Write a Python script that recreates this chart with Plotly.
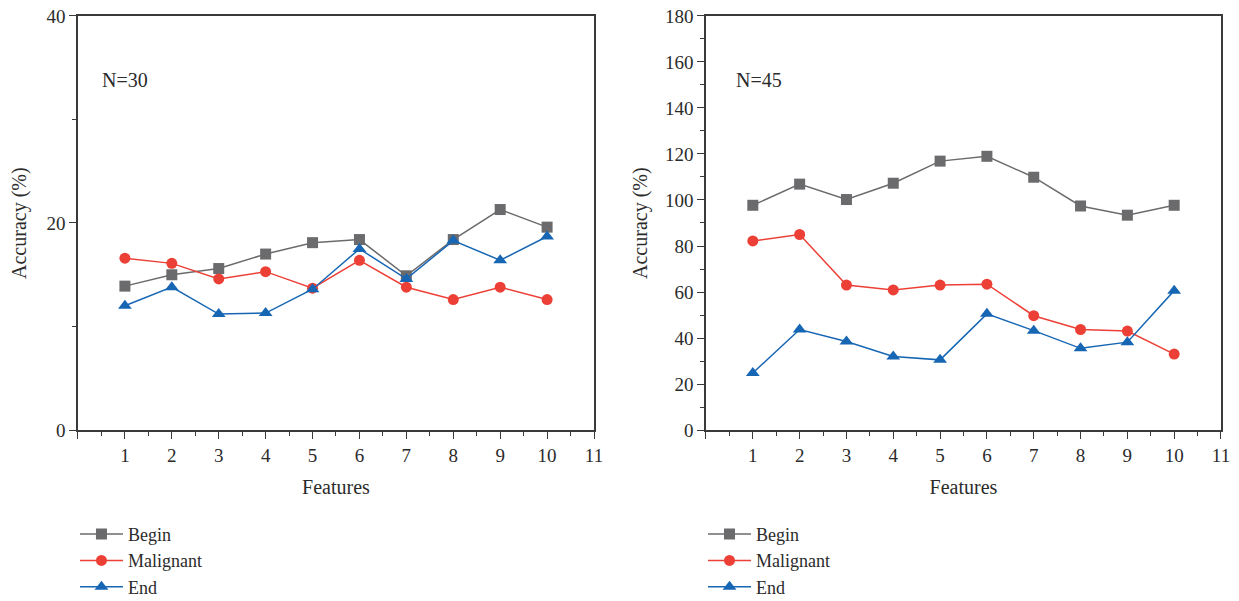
import plotly.graph_objects as go

features = [1, 2, 3, 4, 5, 6, 7, 8, 9, 10]

# N=30 panel
begin_30 = [13.9, 15.0, 15.6, 17.0, 18.1, 18.4, 14.9, 18.4, 21.3, 19.6]
malignant_30 = [16.6, 16.1, 14.6, 15.3, 13.7, 16.4, 13.8, 12.6, 13.8, 12.6]
end_30 = [12.0, 13.8, 11.2, 11.3, 13.6, 17.5, 14.6, 18.3, 16.4, 18.7]

# N=45 panel
begin_45 = [97.7, 106.9, 100.2, 107.3, 116.9, 119.0, 109.9, 97.4, 93.4, 97.7]
malignant_45 = [82.2, 85.0, 63.0, 60.9, 63.0, 63.4, 49.7, 43.7, 43.0, 33.0]
end_45 = [24.8, 43.7, 38.5, 32.0, 30.5, 50.5, 43.2, 35.5, 38.2, 60.6]

series_names = ["Begin", "Malignant", "End"]
x_tickvals = list(range(0, 12))
x_ticktext = [""] + [str(i) for i in range(1, 12)]

FONT = "Liberation Serif"
TXT = "#2b2b2b"
colors = ["#6b6b6d", "#ec4037", "#1766b4"]
symbols = ["square", "circle", "triangle-up"]

fig = go.Figure()

panels = [
    ([begin_30, malignant_30, end_30], "x", "y", "legend"),
    ([begin_45, malignant_45, end_45], "x2", "y2", "legend2"),
]
for data, xa, ya, lg in panels:
    for name, vals, c, s in zip(series_names, data, colors, symbols):
        fig.add_trace(go.Scatter(
            x=features, y=vals, name=name, mode="lines+markers",
            line=dict(color=c, width=1.5),
            marker=dict(symbol=s, size=11 if s != "triangle-up" else 12, color=c),
            xaxis=xa, yaxis=ya, legend=lg,
        ))

axis_common = dict(
    showline=True, linecolor="#3a3a3a", linewidth=1.5, mirror=True,
    ticks="outside", ticklen=7, tickwidth=1.2, tickcolor="#3a3a3a",
    showgrid=False, zeroline=False,
    tickfont=dict(family=FONT, size=19, color=TXT),
)

def xaxis(domain, anchor):
    return dict(axis_common, domain=domain, anchor=anchor, range=[0, 11], tickmode="array",
                tickvals=x_tickvals, ticktext=x_ticktext, ticklabelstandoff=0,
                minor=dict(tickvals=[i + 0.5 for i in range(11)], ticks="outside",
                           ticklen=4, tickcolor="#3a3a3a", showgrid=False),
                title=dict(text="Features", font=dict(family=FONT, size=20, color=TXT),
                           standoff=15))

def yaxis(anchor, rng, dtick):
    return dict(axis_common, domain=[0.2845, 0.9734], anchor=anchor, range=rng,
                tickmode="linear", tick0=0, dtick=dtick,
                minor=dict(dtick=dtick / 2, tick0=0, ticks="outside", ticklen=4,
                           tickcolor="#3a3a3a", showgrid=False))

legend_common = dict(
    font=dict(family=FONT, size=18, color=TXT),
    bgcolor="rgba(0,0,0,0)", xanchor="left", yanchor="top",
    xref="container", yref="container",
    tracegroupgap=0, itemwidth=43,
)

ytitle_font = dict(family=FONT, size=20, color=TXT)

fig.update_layout(
    width=1239, height=601,
    margin=dict(l=0, r=0, t=0, b=0, autoexpand=False),
    paper_bgcolor="white", plot_bgcolor="white",
    xaxis=xaxis([0.06295, 0.47942], "y"),
    yaxis=yaxis("x", [0, 40], 20),
    xaxis2=xaxis([0.56981, 0.98547], "y2"),
    yaxis2=yaxis("x2", [0, 180], 20),
    legend=dict(legend_common, x=0.0605, y=0.1417),
    legend2=dict(legend_common, x=0.5674, y=0.1417),
    annotations=[
        dict(text="N=30", x=1.0, y=33.8, xref="x", yref="y", xanchor="center", yanchor="middle",
             showarrow=False, font=dict(family=FONT, size=20, color=TXT)),
        dict(text="N=45", x=1.13, y=152.2, xref="x2", yref="y2", xanchor="center", yanchor="middle",
             showarrow=False, font=dict(family=FONT, size=20, color=TXT)),
        dict(text="Accuracy (%)", x=20 / 1239, y=0.629, xref="paper", yref="paper",
             xanchor="center", yanchor="middle", textangle=-90, showarrow=False, font=ytitle_font),
        dict(text="Accuracy (%)", x=641 / 1239, y=0.629, xref="paper", yref="paper",
             xanchor="center", yanchor="middle", textangle=-90, showarrow=False, font=ytitle_font),
    ],
    showlegend=True,
)

fig.write_html("out.html")
